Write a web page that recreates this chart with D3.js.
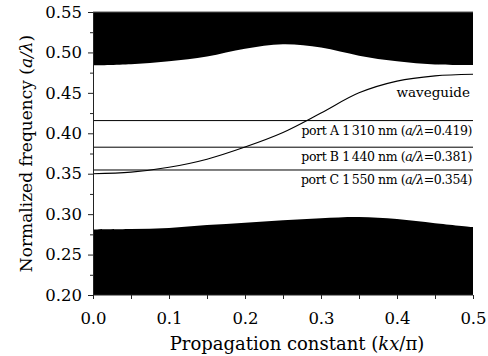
<!DOCTYPE html>
<html>
<head>
<meta charset="utf-8">
<script src="https://cdnjs.cloudflare.com/ajax/libs/d3/7.8.5/d3.min.js"></script>
<style>
  body { margin: 0; background: #fff; }
  svg { display: block; }
  .axis text { font-family: "DejaVu Serif", serif; fill: #000; }
</style>
</head>
<body>
<div id="chart"></div>
<script>
// propagation constant sample points (kx/pi)
var kx = [0, 0.05, 0.1, 0.15, 0.2, 0.25, 0.3, 0.35, 0.4, 0.45, 0.5];
// lower edge of the upper band
var upperBand = [0.484, 0.4855, 0.489, 0.495, 0.5045, 0.510, 0.506, 0.496, 0.489, 0.485, 0.4845];
// upper edge of the lower band
var lowerBand = [0.281, 0.2815, 0.283, 0.2865, 0.2895, 0.2925, 0.295, 0.2965, 0.294, 0.2888, 0.284];
// waveguide mode
var waveguide = [0.350, 0.352, 0.358, 0.368, 0.383, 0.401, 0.425, 0.450, 0.4645, 0.471, 0.473];

var ports = ["A", "B", "C"];
var portNm = ["1\u2009310", "1\u2009440", "1\u2009550"];
var portLabelVal = ["0.419", "0.381", "0.354"];
var portLine = [0.4157, 0.3828, 0.3546];

var yMajor = [0.20, 0.25, 0.30, 0.35, 0.40, 0.45, 0.50, 0.55];
var yMinor = [0.225, 0.275, 0.325, 0.375, 0.425, 0.475, 0.525];
var xTicks = [0, 0.05, 0.1, 0.15, 0.2, 0.25, 0.3, 0.35, 0.4, 0.45, 0.5];

var margin = {top: 12, right: 15, bottom: 61, left: 93},
  width = 488 - margin.left - margin.right,
  height = 356 - margin.top - margin.bottom;

var svg = d3.select("#chart")
  .append("svg")
    .attr("width", 488)
    .attr("height", 356)
  .append("g")
    .attr("transform", "translate(" + margin.left + "," + margin.top + ")");

var x = d3.scaleLinear().domain([0, 0.5]).range([0, width]);
var y = d3.scaleLinear().domain([0.2, 0.55]).range([height, 0]);

var pts = kx.map(function(k, i) {
  return {k: k, up: upperBand[i], lo: lowerBand[i], wg: waveguide[i]};
});

var smooth = d3.curveCatmullRom.alpha(0.5);

// bands
svg.append("path")
  .datum(pts)
  .attr("fill", "#000")
  .attr("d", d3.area()
    .curve(smooth)
    .x(function(d) { return x(d.k); })
    .y0(y(0.55))
    .y1(function(d) { return y(d.up); }));

svg.append("path")
  .datum(pts)
  .attr("fill", "#000")
  .attr("d", d3.area()
    .curve(smooth)
    .x(function(d) { return x(d.k); })
    .y0(y(0.2))
    .y1(function(d) { return y(d.lo); }));

// port lines
svg.selectAll(".port")
  .data(portLine)
  .enter().append("line")
    .attr("x1", 0).attr("x2", width)
    .attr("y1", function(d) { return y(d); })
    .attr("y2", function(d) { return y(d); })
    .attr("stroke", "#000")
    .attr("stroke-width", 1);

// waveguide curve
svg.append("path")
  .datum(pts)
  .attr("fill", "none")
  .attr("stroke", "#000")
  .attr("stroke-width", 1.1)
  .attr("d", d3.line()
    .curve(smooth)
    .x(function(d) { return x(d.k); })
    .y(function(d) { return y(d.wg); }));

// axes
svg.append("g").attr("class", "axis")
  .style("font-size", "16.5px")
  .call(d3.axisLeft(y).tickValues(yMajor).tickSize(5).tickPadding(6).tickFormat(d3.format(".2f")));
svg.append("g").attr("class", "axis")
  .call(d3.axisLeft(y).tickValues(yMinor).tickSize(3).tickFormat(""))
  .select(".domain").remove();

svg.append("g").attr("class", "axis")
  .attr("transform", "translate(0," + height + ")")
  .style("font-size", "16.5px")
  .call(d3.axisBottom(x).tickValues(xTicks).tickSize(4).tickPadding(13)
    .tickFormat(function(d) { return Math.round(d * 100) % 10 === 0 ? d3.format(".1f")(d) : ""; }))
  .select(".domain").attr("d", "M0,0H" + width);

svg.selectAll(".axis .domain, .axis line").attr("stroke", "#222");

// top border
svg.append("line")
  .attr("x1", 0).attr("x2", width)
  .attr("y1", 0).attr("y2", 0)
  .attr("stroke", "#555");

// labels
var lab = svg.append("g")
  .style("font-family", "'DejaVu Serif', serif")
  .style("font-size", "12.5px")
  .attr("text-anchor", "end");

lab.append("text")
  .attr("x", width - 3)
  .attr("y", y(0.473) + 23)
  .style("font-size", "13.5px")
  .text("waveguide");

ports.forEach(function(p, i) {
  var t = lab.append("text")
    .attr("x", width - 1)
    .attr("y", y(portLine[i]) + 14)
    .attr("letter-spacing", "-0.4");
  t.append("tspan").text("port " + p + " " + portNm[i] + " nm (");
  t.append("tspan").style("font-style", "italic").text("a/\u03bb");
  t.append("tspan").text("=" + portLabelVal[i] + ")");
});

// axis titles
var xt = svg.append("text")
  .attr("x", 204)
  .attr("y", height + 55)
  .attr("text-anchor", "middle")
  .style("font-family", "'DejaVu Serif', serif")
  .style("font-size", "18px");
xt.append("tspan").text("Propagation constant (");
xt.append("tspan").style("font-style", "italic").text("kx");
xt.append("tspan").text("/\u03c0)");

var yt = svg.append("text")
  .attr("transform", "translate(" + (32 - margin.left) + "," + (height / 2) + ") rotate(-90)")
  .attr("text-anchor", "middle")
  .style("font-family", "'DejaVu Serif', serif")
  .style("font-size", "17px");
yt.append("tspan").text("Normalized frequency (");
yt.append("tspan").style("font-style", "italic").text("a/\u03bb");
yt.append("tspan").text(")");
</script>
</body>
</html>
